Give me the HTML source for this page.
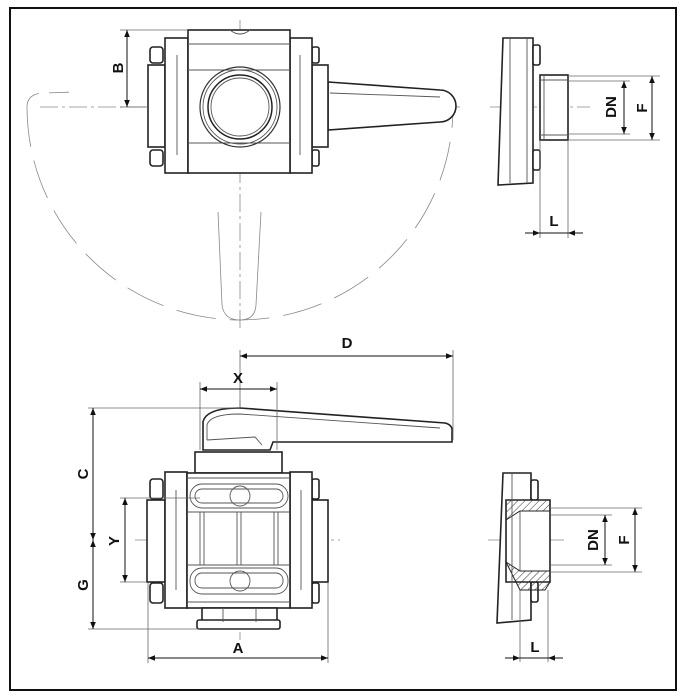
<!DOCTYPE html>
<html><head><meta charset="utf-8"><style>
html,body{margin:0;padding:0;background:#fff;}
svg{display:block;}
text{font-family:"Liberation Sans",sans-serif;font-weight:bold;font-size:15px;fill:#111;}
</style></head><body>
<svg width="686" height="697" viewBox="0 0 686 697" xmlns="http://www.w3.org/2000/svg">
<defs>
<marker id="ar" viewBox="0 0 10 10" refX="10" refY="5" markerWidth="7" markerHeight="7" orient="auto-start-reverse"><path d="M0,1 L10,5 L0,9 z" fill="#111"/></marker>
<pattern id="hat" width="5" height="5" patternUnits="userSpaceOnUse" patternTransform="rotate(45)"><line x1="0" y1="0" x2="0" y2="5" stroke="#333" stroke-width="1"/></pattern>
</defs>
<rect x="10" y="8" width="666" height="682" fill="none" stroke="#111" stroke-width="2"/>

<g fill="none" stroke="#888" stroke-width="0.8">
<!-- dashed swing arc -->
<path d="M27,107 A213,213 0 0 0 453,107" stroke-dasharray="40,14"/>
<path d="M27,107 Q27,93 45,93 L75,92" stroke-dasharray="20,10"/>
<!-- ghost handle -->
<path d="M218,212 L222,305 Q224,320 240,320 Q255,320 256,305 L261,212"/>
<!-- centerlines -->
<line x1="240" y1="20" x2="240" y2="330" stroke-dasharray="18,4,3,4"/>
<line x1="40" y1="107" x2="460" y2="107" stroke-dasharray="18,4,3,4"/>
<line x1="135" y1="540" x2="340" y2="540" stroke-dasharray="18,4,3,4"/>
<line x1="240" y1="400" x2="240" y2="640" stroke-dasharray="18,4,3,4"/>
<line x1="490" y1="107" x2="590" y2="107" stroke-dasharray="18,4,3,4"/>
<line x1="488" y1="540" x2="565" y2="540" stroke-dasharray="18,4,3,4"/>
</g>

<!-- TOP VIEW -->
<g fill="#fff" stroke="#222" stroke-width="1.6">
<path d="M328,82 L440,90 A16,16 0 0 1 440,122 L328,130 z"/>
<rect x="148" y="65" width="17" height="82"/>
<rect x="312" y="65" width="16" height="82"/>
<rect x="150" y="47" width="13" height="16" rx="3"/><rect x="150" y="150" width="13" height="16" rx="3"/>
<rect x="312" y="47" width="7" height="16" rx="2"/><rect x="312" y="150" width="7" height="16" rx="2"/>
<rect x="165" y="38" width="23" height="135"/>
<rect x="290" y="38" width="22" height="135"/>
<rect x="188" y="30" width="102" height="143"/>
</g>
<g fill="none" stroke="#555" stroke-width="0.9">
<line x1="188" y1="44" x2="290" y2="44"/><line x1="188" y1="70" x2="290" y2="70"/><line x1="188" y1="143" x2="290" y2="143"/>
<path d="M230,30 Q240,38 250,30"/>
<line x1="177" y1="55" x2="177" y2="155"/><line x1="300" y1="55" x2="300" y2="155"/>
<path d="M330,93 L440,97"/>
<circle cx="240" cy="107" r="40" stroke="#333" stroke-width="1.2"/>
<circle cx="240" cy="107" r="37"/>
<circle cx="240" cy="107" r="32" stroke="#222" stroke-width="1.5"/>
<circle cx="240" cy="107" r="29"/>
</g>

<!-- BOTTOM VIEW -->
<g fill="#fff" stroke="#222" stroke-width="1.6">
<path d="M203,450 L203,422 Q206,408 240,408 L445,423 Q453,425 452,432 L452,442 L273,442 L270,450 z"/>
<rect x="195" y="452" width="87" height="21"/>
<rect x="147" y="500" width="18" height="82"/>
<rect x="312" y="500" width="16" height="82"/>
<rect x="150" y="479" width="13" height="20" rx="3"/><rect x="150" y="583" width="13" height="20" rx="3"/>
<rect x="312" y="479" width="7" height="20" rx="2"/><rect x="312" y="583" width="7" height="20" rx="2"/>
<rect x="165" y="472" width="22" height="136"/>
<rect x="290" y="472" width="22" height="136"/>
<rect x="187" y="473" width="103" height="135"/>
<rect x="202" y="608" width="75" height="14"/>
<rect x="197" y="620" width="83" height="9" rx="2"/>
</g>
<g fill="none" stroke="#555" stroke-width="0.9">
<path d="M207,440 L207,425 Q210,414 240,414 L440,428"/>
<path d="M207,440 L255,437 L262,445"/>
<rect x="190" y="484" width="98" height="24" rx="12"/>
<rect x="195" y="489" width="88" height="14" rx="7"/>
<rect x="190" y="568" width="98" height="26" rx="12"/>
<rect x="195" y="573" width="88" height="15" rx="7"/>
<circle cx="240" cy="496" r="10"/><circle cx="240" cy="581" r="10"/>
<line x1="187" y1="478" x2="290" y2="478"/><line x1="187" y1="512" x2="290" y2="512"/><line x1="187" y1="565" x2="290" y2="565"/><line x1="187" y1="602" x2="290" y2="602"/>
<line x1="200" y1="512" x2="200" y2="565"/><line x1="204" y1="512" x2="204" y2="565"/>
<line x1="237" y1="512" x2="237" y2="565"/><line x1="241" y1="512" x2="241" y2="565"/>
<line x1="274" y1="512" x2="274" y2="565"/><line x1="278" y1="512" x2="278" y2="565"/>
<line x1="176" y1="490" x2="176" y2="590"/><line x1="301" y1="490" x2="301" y2="590"/>
<line x1="223" y1="608" x2="223" y2="622"/><line x1="256" y1="608" x2="256" y2="622"/>
</g>

<!-- SIDE VIEW TOP -->
<g fill="#fff" stroke="#222" stroke-width="1.6">
<path d="M503,38 L533,38 L533,183 L498,185 z"/>
<rect x="533" y="45" width="7" height="20" rx="2"/><rect x="533" y="150" width="7" height="20" rx="2"/>
<rect x="540" y="75" width="28" height="65"/>
</g>
<g fill="none" stroke="#555" stroke-width="0.9">
<line x1="510" y1="38" x2="510" y2="183"/><line x1="527" y1="38" x2="527" y2="183"/>
<line x1="544" y1="75" x2="544" y2="140"/><line x1="540" y1="80" x2="568" y2="80"/><line x1="540" y1="135" x2="568" y2="135"/>
</g>
<!-- SIDE VIEW BOTTOM -->
<g fill="#fff" stroke="#222" stroke-width="1.6">
<path d="M503,473 L531,473 L531,620 L497,623 z"/>
<rect x="531" y="480" width="7" height="20" rx="2"/><rect x="531" y="582" width="7" height="20" rx="2"/>
<path d="M506,500 L550,500 L550,582 L506,582 z"/>
</g>
<g stroke="#222" stroke-width="1">
<path d="M506,500 L550,500 L550,511 L520,511 L506,520 z" fill="url(#hat)"/>
<path d="M506,562 L520,571 L550,571 L550,582 L545,590 L520,590 z" fill="url(#hat)"/>
</g>
<g fill="none" stroke="#555" stroke-width="0.9">
<line x1="520" y1="511" x2="520" y2="571"/><line x1="512" y1="473" x2="512" y2="620"/>
</g>

<!-- DIMENSIONS -->
<g fill="none" stroke="#666" stroke-width="0.8">
<line x1="120" y1="30" x2="188" y2="30"/><line x1="120" y1="107" x2="148" y2="107"/>
<line x1="568" y1="76" x2="660" y2="76"/><line x1="568" y1="140" x2="660" y2="140"/>
<line x1="568" y1="81" x2="630" y2="81"/><line x1="568" y1="134" x2="630" y2="134"/>
<line x1="540" y1="140" x2="540" y2="238"/><line x1="568" y1="140" x2="568" y2="238"/>
<line x1="550" y1="508" x2="642" y2="508"/><line x1="550" y1="572" x2="642" y2="572"/>
<line x1="550" y1="515" x2="612" y2="515"/><line x1="550" y1="565" x2="612" y2="565"/>
<line x1="520" y1="590" x2="520" y2="662"/><line x1="548" y1="590" x2="548" y2="662"/>
<line x1="240" y1="350" x2="240" y2="408"/><line x1="453" y1="350" x2="453" y2="440"/>
<line x1="200" y1="382" x2="200" y2="450"/><line x1="277" y1="382" x2="277" y2="450"/>
<line x1="88" y1="408" x2="240" y2="408"/><line x1="88" y1="629" x2="200" y2="629"/>
<line x1="120" y1="498" x2="200" y2="498"/><line x1="120" y1="582" x2="147" y2="582"/>
<line x1="148" y1="582" x2="148" y2="663"/><line x1="328" y1="582" x2="328" y2="663"/>
</g>
<g stroke="#111" stroke-width="1">
<line x1="127" y1="30" x2="127" y2="107" marker-start="url(#ar)" marker-end="url(#ar)"/>
<line x1="624" y1="81" x2="624" y2="134" marker-start="url(#ar)" marker-end="url(#ar)"/>
<line x1="652" y1="76" x2="652" y2="140" marker-start="url(#ar)" marker-end="url(#ar)"/>
<line x1="525" y1="233" x2="540" y2="233" marker-end="url(#ar)"/><line x1="583" y1="233" x2="568" y2="233" marker-end="url(#ar)"/>
<line x1="540" y1="233" x2="568" y2="233"/>
<line x1="605" y1="515" x2="605" y2="565" marker-start="url(#ar)" marker-end="url(#ar)"/>
<line x1="635" y1="508" x2="635" y2="572" marker-start="url(#ar)" marker-end="url(#ar)"/>
<line x1="505" y1="658" x2="520" y2="658" marker-end="url(#ar)"/><line x1="563" y1="658" x2="548" y2="658" marker-end="url(#ar)"/>
<line x1="520" y1="658" x2="548" y2="658"/>
<line x1="240" y1="356" x2="453" y2="356" marker-start="url(#ar)" marker-end="url(#ar)"/>
<line x1="200" y1="389" x2="277" y2="389" marker-start="url(#ar)" marker-end="url(#ar)"/>
<line x1="93" y1="408" x2="93" y2="540" marker-start="url(#ar)" marker-end="url(#ar)"/>
<line x1="93" y1="540" x2="93" y2="629" marker-start="url(#ar)" marker-end="url(#ar)"/>
<line x1="125" y1="498" x2="125" y2="582" marker-start="url(#ar)" marker-end="url(#ar)"/>
<line x1="148" y1="658" x2="328" y2="658" marker-start="url(#ar)" marker-end="url(#ar)"/>
</g>
<text x="118" y="68" text-anchor="middle" transform="rotate(-90 118 68)" dy="5">B</text>
<text x="611" y="107" text-anchor="middle" transform="rotate(-90 611 107)" dy="5">DN</text>
<text x="642" y="108" text-anchor="middle" transform="rotate(-90 642 108)" dy="5">F</text>
<text x="554" y="226" text-anchor="middle">L</text>
<text x="593" y="540" text-anchor="middle" transform="rotate(-90 593 540)" dy="5">DN</text>
<text x="624" y="540" text-anchor="middle" transform="rotate(-90 624 540)" dy="5">F</text>
<text x="535" y="652" text-anchor="middle">L</text>
<text x="347" y="348" text-anchor="middle">D</text>
<text x="238" y="383" text-anchor="middle">X</text>
<text x="83" y="474" text-anchor="middle" transform="rotate(-90 83 474)" dy="5">C</text>
<text x="83" y="585" text-anchor="middle" transform="rotate(-90 83 585)" dy="5">G</text>
<text x="114" y="541" text-anchor="middle" transform="rotate(-90 114 541)" dy="5">Y</text>
<text x="238" y="653" text-anchor="middle">A</text>
</svg>
</body></html>
